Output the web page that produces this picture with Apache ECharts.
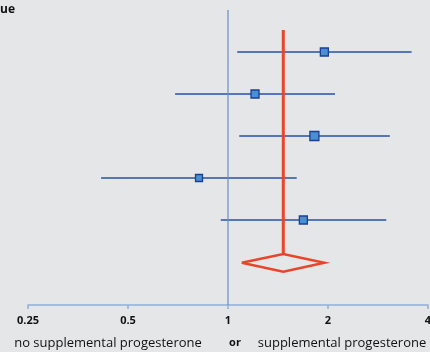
<!DOCTYPE html>
<html><head><meta charset="utf-8">
<script src="https://cdn.jsdelivr.net/npm/echarts@6/dist/echarts.min.js"></script>
<style>html,body{margin:0;padding:0;background:#e5e6e8}#c{width:430px;height:352px}</style>
</head><body><div id="c"></div>
<script>
var rows = [1, 2, 3, 4, 5];
var estimates = [1.95, 1.206, 1.82, 0.818, 1.686];
var lowers = [1.066, 0.693, 1.081, 0.415, 0.951];
var uppers = [3.57, 2.10, 3.07, 1.61, 2.996];
var weights = [8, 8, 9, 7, 8];
var pooled = {est: 1.467, lo: 1.10, hi: 1.95};
var tickLabels = [0.25, 0.5, 1, 2, 4];

var FONT = '"Open Sans", "Liberation Sans", sans-serif';
var ciData = rows.map(function (r, i) { return [lowers[i], uppers[i], estimates[i], r, weights[i]]; });

var chart = echarts.init(document.getElementById('c'), null, {renderer: 'canvas'});
chart.setOption({
  backgroundColor: '#e5e6e8',
  animation: false,
  grid: {left: 28, right: 2, top: 10, height: 295, containLabel: false, outerBoundsMode: 'none'},
  xAxis: {
    type: 'log', logBase: 2, min: 0.25, max: 4, interval: 1, position: 'bottom',
    axisLine: {show: true, onZero: false, lineStyle: {color: '#8fb0d9', width: 1.5}},
    axisTick: {show: true, inside: false, length: 4, lineStyle: {color: '#8fb0d9', width: 1.5}},
    splitLine: {show: false},
    axisLabel: {margin: 10, fontFamily: FONT, fontSize: 11, fontWeight: 'bold', color: '#111', hideOverlap: false,
      formatter: function (v) { var t = tickLabels.filter(function (x) { return Math.abs(x - v) < 1e-6; }); return t.length ? String(t[0]) : ''; }}
  },
  yAxis: {type: 'value', min: 0, max: 7.0238, inverse: true, show: false},
  series: [
    {type: 'line', data: [[1, 0], [1, 7.0238]], symbol: 'none', lineStyle: {color: '#6b8cc7', width: 1.2}, silent: true},
    {type: 'custom', data: ciData, encode: {x: [0, 1, 2], y: 3},
      renderItem: function (params, api) {
        var a = api.coord([api.value(0), api.value(3)]);
        var b = api.coord([api.value(1), api.value(3)]);
        var m = api.coord([api.value(2), api.value(3)]);
        var s = api.value(4);
        return {type: 'group', children: [
          {type: 'line', shape: {x1: a[0], y1: a[1], x2: b[0], y2: b[1]}, style: {stroke: '#2550a8', lineWidth: 1.6}},
          {type: 'rect', shape: {x: m[0] - s / 2, y: m[1] - s / 2, width: s, height: s}, style: {fill: '#4a8fd0', stroke: '#1a3f96', lineWidth: 1.3}}
        ]};
      }},
    {type: 'line', data: [[pooled.est, 0.476], [pooled.est, 5.81]], symbol: 'none', lineStyle: {color: '#e8452a', width: 3}},
    {type: 'line', data: [[pooled.lo, 6.02], [pooled.est, 5.81], [pooled.hi, 6.02], [pooled.est, 6.23], [pooled.lo, 6.02]],
      symbol: 'none', lineStyle: {color: '#e8452a', width: 2.5, join: 'miter'}}
  ],
  graphic: [
    {type: 'text', left: 0, top: 4, style: {text: 'ue', font: 'bold 12px ' + FONT, fill: '#111'}},
    {type: 'text', x: 108, y: 343, style: {text: 'no supplemental progesterone', font: '13px ' + FONT, fill: '#111', textAlign: 'center', textVerticalAlign: 'middle'}},
    {type: 'text', x: 235, y: 343, style: {text: 'or', font: 'bold 11px ' + FONT, fill: '#111', textAlign: 'center', textVerticalAlign: 'middle'}},
    {type: 'text', x: 342, y: 343, style: {text: 'supplemental progesterone', font: '13px ' + FONT, fill: '#111', textAlign: 'center', textVerticalAlign: 'middle'}}
  ]
});
</script></body></html>
